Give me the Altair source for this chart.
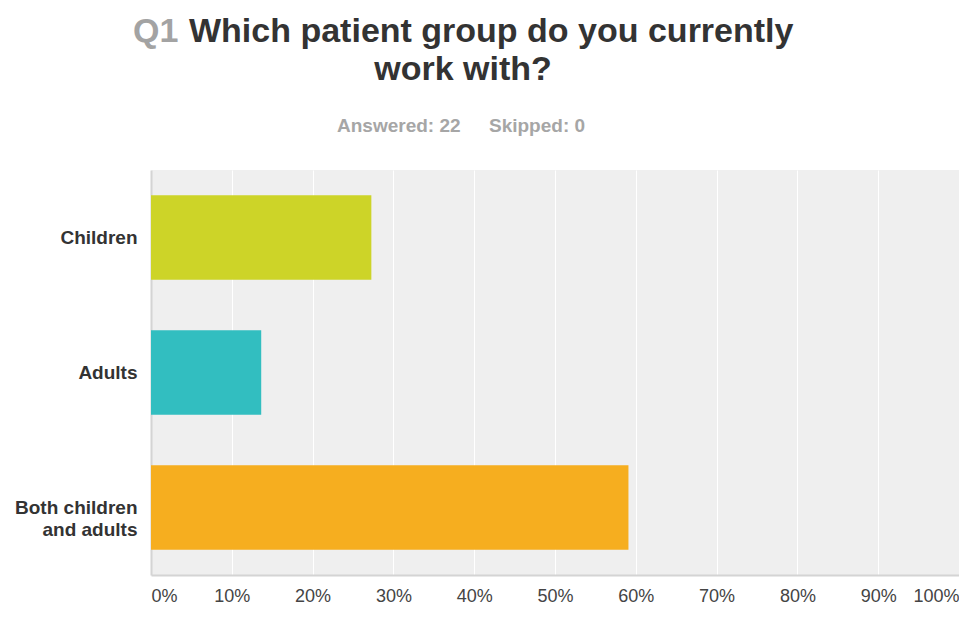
import altair as alt
import pandas as pd

categories = ["Children", "Adults", "Both children|and adults"]
shares = [0.2727, 0.1364, 0.5909]
colors = ["#cdd428", "#32bec0", "#f6ae1f"]
tick_values = [0, 0.1, 0.2, 0.3, 0.4, 0.5, 0.6, 0.7, 0.8, 0.9, 1.0]

df = pd.DataFrame({"category": categories, "share": shares, "color": colors})

W, H = 808, 405
FONT = "Liberation Sans"

bars = alt.Chart(df).mark_bar().encode(
    y=alt.Y("category:N", sort=categories, title=None,
            scale=alt.Scale(paddingInner=0.375, paddingOuter=0.1875),
            axis=alt.Axis(labelExpr="split(datum.label, '|')", labelFont=FONT,
                          labelFontSize=19, labelFontWeight="bold", labelColor="#333333",
                          labelPadding=14, ticks=False, domainColor="#d4d4d4",
                          domainWidth=2, grid=False, labelLineHeight=22,
                          labelLimit=200)),
    x=alt.X("share:Q", title=None,
            scale=alt.Scale(domain=[0, 1], nice=False),
            axis=alt.Axis(values=tick_values, format=".0%", labelFont=FONT,
                          labelFontSize=18, labelColor="#444444", labelPadding=12,
                          ticks=False, labelFlush=True, domainColor="#d4d4d4",
                          domainWidth=2, grid=True, gridColor="#ffffff", gridWidth=1)),
    color=alt.Color("color:N", scale=None),
)

def label(text, x, y, size, color, align="left", weight="bold"):
    return alt.Chart(pd.DataFrame({"t": [text]})).mark_text(
        font=FONT, fontSize=size, fontWeight=weight, color=color, align=align,
        baseline="alphabetic", clip=False
    ).encode(text="t:N", x=alt.value(x), y=alt.value(y))

title_q = label("Q1", -18, -128, 34, "#a3a3a3")
title_1 = label("Which patient group do you currently", 38, -128, 34, "#333333")
title_2 = label("work with?", 312, -90, 34, "#333333", align="center")
sub_1 = label("Answered: 22", 186, -38, 19, "#a6a6a6")
sub_2 = label("Skipped: 0", 338, -38, 19, "#a6a6a6")

chart = alt.layer(bars, title_q, title_1, title_2, sub_1, sub_2).properties(
    width=W, height=H,
    background="#ffffff",
    autosize=alt.AutoSizeParams(type="none"),
    padding={"left": 143, "top": 162, "right": 0, "bottom": 34},
).configure_view(fill="#efefef", stroke=None)

chart.save("out.html", embed_options={"renderer": "svg", "actions": False})
